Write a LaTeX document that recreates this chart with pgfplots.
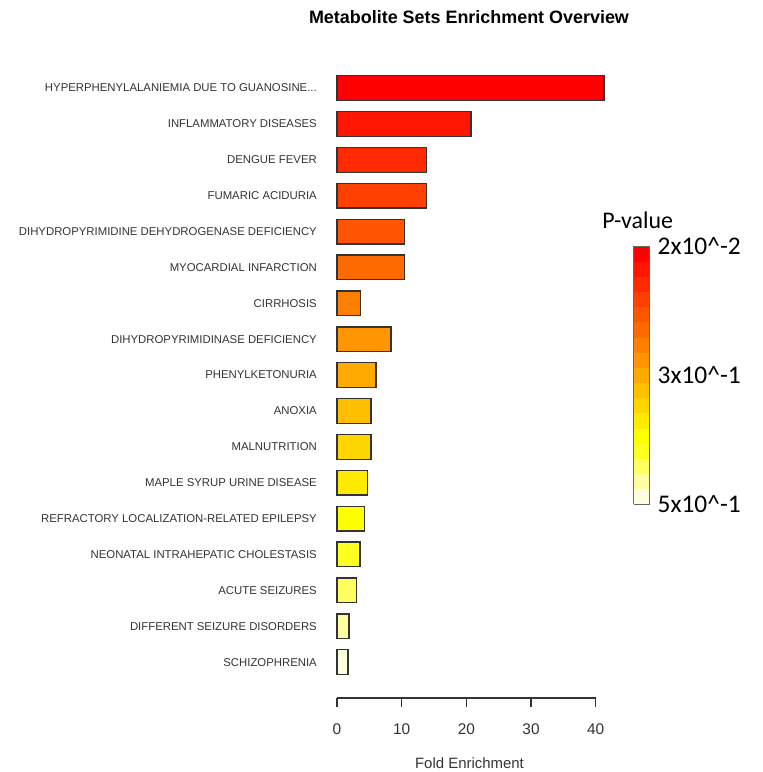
\documentclass[border=0pt]{standalone}
\usepackage{fontspec}
\setmainfont{Liberation Sans}
\newfontfamily\calibri{Carlito}
\usepackage{pgfplots}
\pgfplotsset{compat=1.18}
\newcommand{\threedots}{...}

% heat colours, rank 0 = largest p-value (bottom) ... 16 = smallest (top)
\definecolor{hc0}{HTML}{FFFFDF}
\definecolor{hc1}{HTML}{FFFF9F}
\definecolor{hc2}{HTML}{FFFF60}
\definecolor{hc3}{HTML}{FFFF20}
\definecolor{hc4}{HTML}{FFFF00}
\definecolor{hc5}{HTML}{FFEA00}
\definecolor{hc6}{HTML}{FFD500}
\definecolor{hc7}{HTML}{FFBF00}
\definecolor{hc8}{HTML}{FFAA00}
\definecolor{hc9}{HTML}{FF9500}
\definecolor{hc10}{HTML}{FF8000}
\definecolor{hc11}{HTML}{FF6A00}
\definecolor{hc12}{HTML}{FF5500}
\definecolor{hc13}{HTML}{FF4000}
\definecolor{hc14}{HTML}{FF2A00}
\definecolor{hc15}{HTML}{FF1500}
\definecolor{hc16}{HTML}{FF0000}
\definecolor{edge}{HTML}{333333}

\begin{document}
\begin{tikzpicture}
\useasboundingbox (0,0) rectangle (763bp,-772bp);
\begin{axis}[
    at={(337bp,-698bp)}, anchor=south west,
    scale only axis,
    width=258.7bp, height=627.9bp,
    xmin=0, xmax=40, ymin=-1, ymax=16.5,
    clip=false,
    axis x line*=bottom,
    axis y line*=left,
    y axis line style={draw=none},
    x axis line style={edge, line width=1.2bp},
    xtick={0,10,20,30,40},
    tick align=outside,
    xtick style={edge, line width=1.2bp},
    major tick length=9bp,
    ytick style={draw=none},
    /pgf/number format/assume math mode=true,
    xticklabel style={font=\fontsize{15.5}{17}\selectfont, text=edge, yshift=-13bp},
    ytick={0,1,2,3,4,5,6,7,8,9,10,11,12,13,14,15,16},
    yticklabels={SCHIZOPHRENIA, DIFFERENT SEIZURE DISORDERS, ACUTE SEIZURES,
        NEONATAL INTRAHEPATIC CHOLESTASIS, REFRACTORY LOCALIZATION-RELATED EPILEPSY,
        MAPLE SYRUP URINE DISEASE, MALNUTRITION, ANOXIA, PHENYLKETONURIA,
        DIHYDROPYRIMIDINASE DEFICIENCY, CIRRHOSIS, MYOCARDIAL INFARCTION,
        DIHYDROPYRIMIDINE DEHYDROGENASE DEFICIENCY, FUMARIC ACIDURIA, DENGUE FEVER,
        INFLAMMATORY DISEASES, HYPERPHENYLALANIEMIA DUE TO GUANOSINE\threedots},
    yticklabel style={font=\fontsize{11.4}{13}\selectfont, text=edge,
        anchor=east, inner sep=0pt, xshift=-11bp},
    hb/.style={xbar, bar width=24.7bp, bar shift=0pt, draw=edge, line width=1.3bp, fill=#1},
    colormap={heatsteps}{rgb255=(255,255,223) rgb255=(255,255,159) rgb255=(255,255,96)
        rgb255=(255,255,32) rgb255=(255,255,0) rgb255=(255,234,0) rgb255=(255,213,0)
        rgb255=(255,191,0) rgb255=(255,170,0) rgb255=(255,149,0) rgb255=(255,128,0)
        rgb255=(255,106,0) rgb255=(255,85,0) rgb255=(255,64,0) rgb255=(255,42,0)
        rgb255=(255,21,0) rgb255=(255,0,0)},
    colormap access=piecewise constant,
    point meta min=0, point meta max=1,
    colorbar,
    colorbar style={
        at={(625bp,-504bp)}, anchor=south west,
        scale only axis, width=16bp, height=258bp,
        axis line style={black!60, line width=0.8bp},
        ytick={0,0.5,1},
        yticklabels={5x10\^{}-1, 3x10\^{}-1, 2x10\^{}-2},
        major tick length=0pt,
        yticklabel style={font=\calibri\fontsize{25.5}{30}\selectfont,
            anchor=west, inner sep=0pt, xshift=8bp},
    },
]
\addplot[hb=hc0]  coordinates {(1.70,0)};
\addplot[hb=hc1]  coordinates {(1.86,1)};
\addplot[hb=hc2]  coordinates {(3.05,2)};
\addplot[hb=hc3]  coordinates {(3.56,3)};
\addplot[hb=hc4]  coordinates {(4.24,4)};
\addplot[hb=hc5]  coordinates {(4.70,5)};
\addplot[hb=hc6]  coordinates {(5.26,6)};
\addplot[hb=hc7]  coordinates {(5.26,7)};
\addplot[hb=hc8]  coordinates {(6.04,8)};
\addplot[hb=hc9]  coordinates {(8.36,9)};
\addplot[hb=hc10] coordinates {(3.67,10)};
\addplot[hb=hc11] coordinates {(10.4,11)};
\addplot[hb=hc12] coordinates {(10.4,12)};
\addplot[hb=hc13] coordinates {(13.8,13)};
\addplot[hb=hc14] coordinates {(13.8,14)};
\addplot[hb=hc15] coordinates {(20.7,15)};
\addplot[hb=hc16] coordinates {(41.3,16)};
\end{axis}
\node[font=\bfseries\fontsize{18}{21}\selectfont] at (469bp,-17bp)
    {Metabolite Sets Enrichment Overview};
\node[font=\fontsize{15}{17}\selectfont, text=edge] at (469.5bp,-763bp) {Fold Enrichment};
\node[font=\calibri\fontsize{24}{28}\selectfont] at (637.7bp,-220bp) {P-value};
\end{tikzpicture}
\end{document}
